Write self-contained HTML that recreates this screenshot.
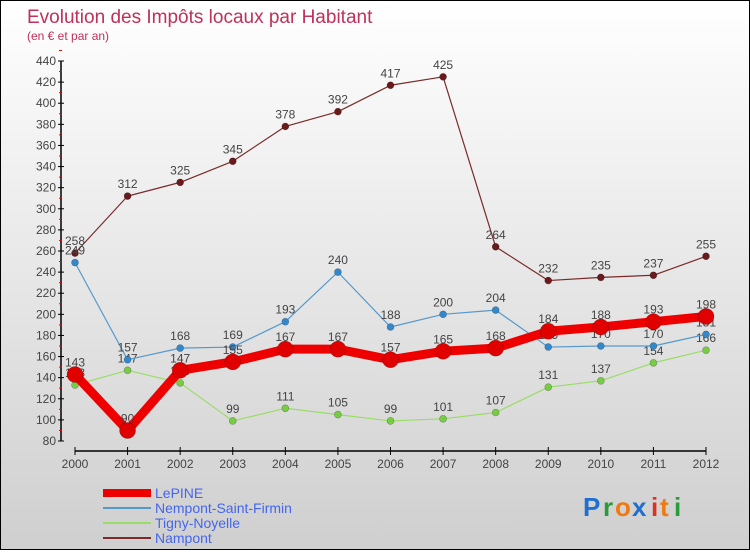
<!DOCTYPE html>
<html><head><meta charset="utf-8"><style>
html,body{margin:0;padding:0}
body{width:750px;height:550px;overflow:hidden;font-family:"Liberation Sans",sans-serif}
#wrap{position:absolute;left:0;top:0;width:748px;height:548px;border:1px solid #000;background:linear-gradient(#ffffff,#cfcfcf)}
</style></head><body>
<div id="wrap">
<svg id="chart" width="748" height="548" xmlns="http://www.w3.org/2000/svg">
<text x="26" y="22" font-size="19" fill="#c0305a">Evolution des Impôts locaux par Habitant</text>
<text x="26" y="39" font-size="12" fill="#c0305a">(en € et par an)</text>
<g id="axes"></g><g id="series"></g><g id="legend"></g>
<g font-size="26" font-weight="bold">
<text x="582" y="515" fill="#1e6fd0">P</text><text x="602" y="515" fill="#2a9a3a">r</text><text x="614" y="515" fill="#f07a10">o</text><text x="631" y="515" fill="#1e6fd0">x</text><text x="650" y="515" fill="#e03020">i</text><text x="659" y="515" fill="#f07a10">t</text><text x="673" y="515" fill="#2a9a3a">i</text>
</g>
</svg></div>
<script>
const years=["2000","2001","2002","2003","2004","2005","2006","2007","2008","2009","2010","2011","2012"];
const lepine=[143,90,147,155,167,167,157,165,168,184,188,193,198];
const nempont=[249,157,168,169,193,240,188,200,204,169,170,170,181];
const tigny=[133,147,135,99,111,105,99,101,107,131,137,154,166];
const nampont=[258,312,325,345,378,392,417,425,264,232,235,237,255];
const yTicks=[80,100,120,140,160,180,200,220,240,260,280,300,320,340,360,380,400,420,440];
const NS="http://www.w3.org/2000/svg";
function X(i){return 74+i*(631/12);}
function Y(v){return 440-(v-80)*(380/360);}
function mk(tag,attrs,parent){const e=document.createElementNS(NS,tag);for(const k in attrs)e.setAttribute(k,attrs[k]);parent.appendChild(e);return e;}
const axes=document.getElementById('axes');
let yl=mk('line',{x1:60,y1:Y(440),x2:60,y2:Y(80),stroke:'#000','stroke-width':1.5},axes);


yTicks.forEach(v=>{
 mk('line',{x1:57,y1:Y(v),x2:63,y2:Y(v),stroke:'#000'},axes);
 mk('line',{x1:58,y1:Y(v+10),x2:61,y2:Y(v+10),stroke:'#e00'},axes);
 const t=mk('text',{x:55,y:Y(v)+4,'font-size':12,'text-anchor':'end',fill:'#444'},axes);t.textContent=v;
 
 
});
let xl=mk('line',{x1:X(0),y1:450,x2:X(12),y2:450,stroke:'#000','stroke-width':1.5},axes);


years.forEach((y,i)=>{
 mk('line',{x1:X(i),y1:446,x2:X(i),y2:454,stroke:'#000'},axes);
 const t=mk('text',{x:X(i),y:467,'font-size':12,'text-anchor':'middle',fill:'#444'},axes);t.textContent=y;
 
 
});
const sg=document.getElementById('series');
function draw(data,color,w,r,name,dot){
 const g=mk('g',{},sg);
 
 
 mk('polyline',{points:data.map((v,i)=>X(i)+','+Y(v)).join(' '),fill:'none',stroke:color,'stroke-width':w,'stroke-linejoin':'round'},g);
 data.forEach((v,i)=>{
  const c=mk('circle',{cx:X(i),cy:Y(v),r:r,fill:dot,stroke:'rgba(0,0,0,0.3)','stroke-width':0.6},g);
  
  
  const t=mk('text',{x:X(i),y:Y(v)-8,'font-size':12,'text-anchor':'middle',fill:'#444'},g);t.textContent=v;
  
  
 });
}
draw(nampont,'#7a2a2a',1.2,3.5,'nampont-series','#6a1a1a');
draw(tigny,'#99dd66',1.2,3.5,'tigny-noyelle-series','#77cc44');
draw(nempont,'#5599cc',1.2,3.5,'nempont-series','#3388cc');
draw(lepine,'#ee0000',9,8,'lepine-series','#e00000');
const lg=document.getElementById('legend');
const leg=[['LePINE','#ee0000',8],['Nempont-Saint-Firmin','#5599cc',2],['Tigny-Noyelle','#99dd66',2],['Nampont','#7a2a2a',2]];
leg.forEach((l,i)=>{
 const y=492+i*15;
 const g=mk('g',{},lg);
 
 
 mk('line',{x1:102,y1:y,x2:150,y2:y,stroke:l[1],'stroke-width':l[2]},g);
 const t=mk('text',{x:154,y:y+5,'font-size':14,fill:'#4466ee'},g);t.textContent=l[0];
});
</script>
</body></html>
